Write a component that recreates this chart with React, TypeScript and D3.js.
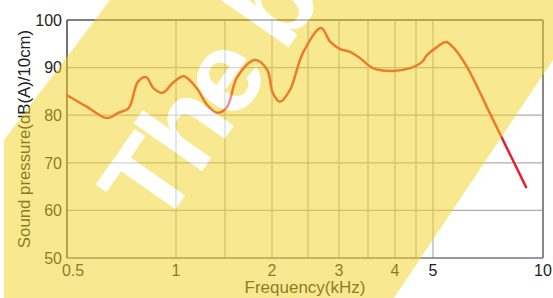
import React from "react";
import * as d3 from "d3";

// ---- data ----
const freqKHz = [0.47, 0.57, 0.665, 0.72, 0.77, 0.815, 0.855, 0.89, 0.935, 0.985, 1.08, 1.21, 1.32, 1.42, 1.52, 1.63, 1.82, 1.95, 2.01, 2.11, 2.25, 2.43, 2.71, 2.86, 3.02, 3.19, 3.36, 3.59, 3.96, 4.36, 4.68, 4.82, 5.18, 5.59, 5.91, 6.55, 7.45, 8.18, 9.23];
const splDb = [84.2, 81.7, 79.4, 80.5, 81.5, 87.0, 88.0, 85.7, 84.7, 86.8, 88.2, 85.7, 82.1, 80.5, 81.7, 88.0, 91.6, 89.5, 84.7, 82.8, 85.3, 93.1, 98.3, 95.4, 93.9, 93.3, 92.0, 89.9, 89.3, 89.9, 91.2, 92.6, 94.3, 95.4, 94.3, 90.1, 81.7, 74.8, 64.9];
const xTickValues = [0.5, 1, 2, 3, 4, 5, 10];
const xTickLabels = ["0.5", "1", "2", "3", "4", "5", "10"];
const xGridValues = [1, 1.5, 2, 2.5, 3, 3.5, 4, 4.5, 5];
const yTickValues = [50, 60, 70, 80, 90, 100];
const yGridValues = [60, 70, 80, 90];
const xTitle = "Frequency(kHz)";
const yTitle = "Sound pressure(dB(A)/10cm)";
const watermark = "The b";

const W = 553;
const H = 298;
const FONT = "'Liberation Sans', Arial, Helvetica, sans-serif";

export default function App() {
  // non-uniform frequency axis of the original chart (piecewise)
  const x = d3
    .scaleLinear()
    .domain([0.47, 0.5, 1, 1.5, 2, 2.5, 3, 3.5, 4, 4.5, 5, 10])
    .range([67, 73, 176, 225, 272, 308, 339, 368, 395, 416, 433, 543]);
  const y = d3.scaleLinear().domain([50, 100]).range([258, 20]);
  const left = x(0.47);
  const right = x(10);
  const top = y(100);
  const bottom = y(50);

  const pts: [number, number][] = freqKHz.map((f, i) => [f, splDb[i]]);
  const line = d3
    .line<[number, number]>()
    .x((d) => x(d[0]))
    .y((d) => y(d[1]))
    .curve(d3.curveCatmullRom.alpha(0.5));

  const band = "110,0 553,0 553,60 394,298 4,298 4,140";
  const wmTransform = "translate(160,231) rotate(-55)";
  const wmStyle = {
    fontFamily: FONT,
    fontWeight: 700 as const,
    fontSize: 115,
    letterSpacing: -5,
  };

  return (
    <svg
      width={W}
      height={H}
      style={{ position: "absolute", left: 0, top: 0, display: "block" }}
    >
      <defs>
        <mask id="bandMask" maskUnits="userSpaceOnUse" x={0} y={0} width={W} height={H}>
          <polygon points={band} fill="white" />
          <text transform={wmTransform} style={wmStyle} fill="black">
            {watermark}
          </text>
        </mask>
      </defs>
      <rect x={0} y={0} width={W} height={H} fill="white" />

      {/* grid */}
      {yGridValues.map((v) => (
        <line key={"hy" + v} x1={left} x2={right} y1={y(v)} y2={y(v)} stroke="#adadad" strokeWidth={1.2} />
      ))}
      {xGridValues.map((v) => (
        <line key={"vx" + v} x1={x(v)} x2={x(v)} y1={top} y2={bottom} stroke="#adadad" strokeWidth={1.2} />
      ))}

      {/* frame */}
      <line x1={left} x2={right} y1={top} y2={top} stroke="#555" strokeWidth={1.5} />
      <line x1={right} x2={right} y1={top} y2={bottom} stroke="#888" strokeWidth={2} />
      <line x1={left} x2={right} y1={bottom} y2={bottom} stroke="#777" strokeWidth={1.5} />
      <line x1={left} x2={left} y1={top} y2={bottom} stroke="#444" strokeWidth={1.5} />

      {/* curve */}
      <path d={line(pts) || ""} fill="none" stroke="#e4222c" strokeWidth={2.5} strokeLinecap="round" />

      {/* tick labels */}
      {yTickValues.map((v) => (
        <text key={"yt" + v} x={left - 5} y={y(v)} dy="0.36em" textAnchor="end" fill="#222" style={{ fontFamily: FONT, fontSize: 16 }}>
          {v}
        </text>
      ))}
      {xTickValues.map((v, i) => (
        <text key={"xt" + v} x={x(v)} y={276} textAnchor="middle" fill="#222" style={{ fontFamily: FONT, fontSize: 16 }}>
          {xTickLabels[i]}
        </text>
      ))}

      {/* axis titles */}
      <text x={(left + right) / 2} y={293} textAnchor="middle" fill="#222" style={{ fontFamily: FONT, fontSize: 17 }}>
        {xTitle}
      </text>
      <text
        transform={`translate(30,${(top + bottom) / 2}) rotate(-90)`}
        textAnchor="middle"
        fill="#222"
        style={{ fontFamily: FONT, fontSize: 16.8 }}
      >
        {yTitle}
      </text>

      {/* yellow highlighter band with letter cut-outs */}
      <rect x={0} y={0} width={W} height={H} fill="#f3d525" opacity={0.5} mask="url(#bandMask)" />
      {/* white watermark letters */}
      <text transform={wmTransform} style={wmStyle} fill="white" opacity={0.5}>
        {watermark}
      </text>
    </svg>
  );
}
